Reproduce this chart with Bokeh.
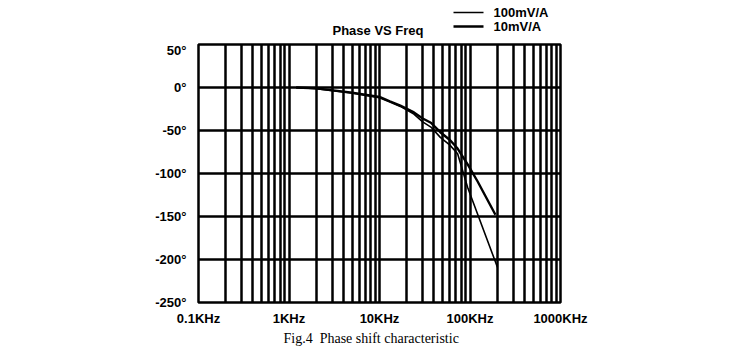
from bokeh.plotting import figure
from bokeh.layouts import column
from bokeh.models import FixedTicker, Label, Arrow, Title
from bokeh.embed import file_html
from bokeh.resources import INLINE

# Phase response of the two current-probe ranges (frequency in kHz, phase in degrees)
freq_10mv = [1.2, 2.0, 5.0, 10.0, 13.0, 17.0, 24.0, 30.0, 37.0, 47.0, 60.0, 73.0, 95.0, 121.0, 191.0]
phase_10mv = [0.0, -1.0, -6.0, -11.0, -16.0, -21.0, -29.0, -36.0, -41.0, -52.0, -61.0, -71.0, -90.0, -109.0, -148.0]
freq_100mv = [1.2, 2.0, 5.0, 10.0, 13.0, 17.0, 24.0, 30.0, 37.0, 47.0, 60.0, 73.0, 94.0, 201.0]
phase_100mv = [0.0, -1.5, -6.5, -12.0, -17.0, -22.0, -31.0, -40.0, -46.0, -58.0, -67.0, -77.0, -116.0, -209.0]

decades = [0.1, 1, 10, 100, 1000]
decade_labels = ["0.1KHz", "1KHz", "10KHz", "100KHz", "1000KHz"]
grid_freqs = [m * d for d in [0.1, 1, 10, 100] for m in range(1, 10)] + [1000]
phase_ticks = [50, 0, -50, -100, -150, -200, -250]

series_names = ["100mV/A", "10mV/A"]
series_widths = [1.6, 2.4]

FONT = "Liberation Sans"
LEFT, RIGHT = 198, 195  # border widths shared by header and chart

# ---- header strip: chart title and legend (frame aligned with the chart frame) ----
head = figure(width=755, height=42, x_range=(0, 1), y_range=(0, 1),
              output_backend="svg", toolbar_location=None,
              min_border=0, min_border_left=LEFT, min_border_right=RIGHT,
              min_border_top=0, min_border_bottom=0)
head.axis.visible = False
head.grid.visible = False
head.outline_line_color = None
head.background_fill_color = "white"
head.border_fill_color = "white"

head.add_layout(Label(x=134, y=12, x_units="screen", y_units="screen",
                      text="Phase VS Freq", text_font=FONT, text_font_style="bold",
                      text_font_size="13px", text_baseline="middle", text_color="black"))
for yy, lw, txt in zip([30, 16], series_widths, series_names):
    head.add_layout(Arrow(x_start=255, y_start=yy, x_end=285, y_end=yy,
                          start_units="screen", end_units="screen",
                          start=None, end=None, line_color="black", line_width=lw))
    head.add_layout(Label(x=295, y=yy, x_units="screen", y_units="screen",
                          text=txt, text_font=FONT, text_font_style="bold",
                          text_font_size="13px", text_baseline="middle", text_color="black"))

# ---- main chart ----
p = figure(width=755, height=312, x_axis_type="log",
           x_range=(0.1, 1000), y_range=(-250, 50),
           output_backend="svg", toolbar_location=None,
           min_border_left=LEFT, min_border_right=RIGHT,
           min_border_top=2, min_border_bottom=52)
p.background_fill_color = "white"
p.border_fill_color = "white"
p.outline_line_color = "black"
p.outline_line_width = 2.5

p.xgrid.ticker = FixedTicker(ticks=grid_freqs)
p.ygrid.ticker = FixedTicker(ticks=phase_ticks)
for g in (p.xgrid, p.ygrid):
    g.grid_line_color = "black"
    g.grid_line_width = 2.5
    g.grid_line_alpha = 1.0

p.xaxis.ticker = FixedTicker(ticks=decades)
p.xaxis.major_label_overrides = {d: t for d, t in zip(decades, decade_labels)}
p.yaxis.ticker = FixedTicker(ticks=phase_ticks)
p.yaxis.major_label_overrides = {v: f"{v}°" for v in phase_ticks}
for ax in (p.xaxis, p.yaxis):
    ax.axis_line_color = None
    ax.major_tick_line_color = None
    ax.minor_tick_line_color = None
    ax.major_tick_out = 0
    ax.major_tick_in = 0
    ax.major_label_text_font = FONT
    ax.major_label_text_font_style = "bold"
    ax.major_label_text_font_size = "13px"
    ax.major_label_text_color = "black"
p.xaxis.major_label_standoff = 8
p.yaxis.major_label_standoff = 12

p.line(freq_100mv, phase_100mv, line_color="black", line_width=series_widths[0])
p.line(freq_10mv, phase_10mv, line_color="black", line_width=series_widths[1])

caption = Title(text="Fig.4\u00a0\u00a0Phase shift characteristic", align="left", offset=85,
                text_font="Liberation Serif", text_font_style="normal",
                text_font_size="14px", text_color="black", standoff=1)
p.add_layout(caption, "below")

open("out.html", "w").write(file_html(column(head, p, spacing=0), INLINE))
